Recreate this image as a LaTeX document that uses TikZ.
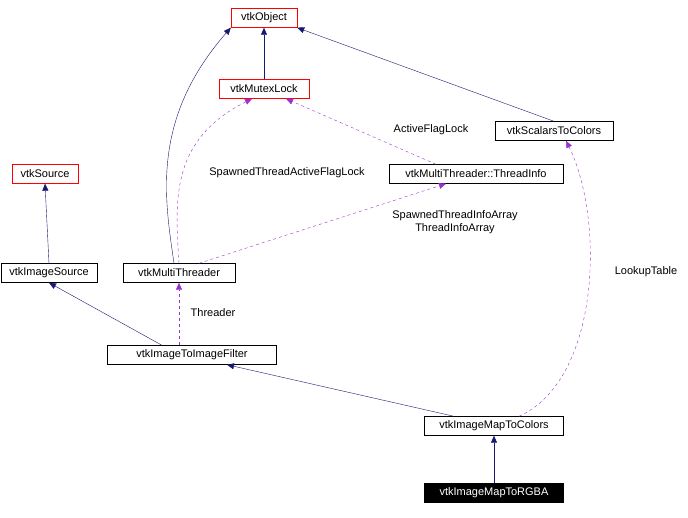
\documentclass[tikz,border=0pt]{standalone}
\usepackage{fontspec}
\setmainfont{Liberation Sans}
\usetikzlibrary{arrows.meta}
\definecolor{navy}{HTML}{191970}
\definecolor{purp}{HTML}{9A32CD}
\begin{document}
\begin{tikzpicture}[x=1pt,y=-1pt,font=\fontsize{11}{13}\selectfont,
  box/.style={draw=black,fill=white,minimum height=19pt,inner sep=1pt,anchor=center},
  redbox/.style={box,draw=red},
  inh/.style={navy,-{Triangle[length=7pt,width=6pt]}},
  use/.style={draw=purp,dashed,-{Triangle[length=7pt,width=6pt,fill=purp]}},
  lab/.style={align=center,inner sep=1pt}]
\useasboundingbox (0,0) rectangle (688,517);
\node[redbox,minimum width=66pt] (obj) at (264,18) {vtkObject};
\node[redbox,minimum width=90pt] (mutex) at (264,89) {vtkMutexLock};
\node[box,minimum width=118pt] (s2c) at (554,131) {vtkScalarsToColors};
\node[redbox,minimum width=66pt] (src) at (45,174) {vtkSource};
\node[box,minimum width=174pt] (ti) at (476,174) {vtkMultiThreader::ThreadInfo};
\node[box,minimum width=96pt] (isrc) at (49,273) {vtkImageSource};
\node[box,minimum width=112pt] (mt) at (179,273) {vtkMultiThreader};
\node[box,minimum width=169pt] (i2i) at (192,355) {vtkImageToImageFilter};
\node[box,minimum width=139pt] (m2c) at (494,426) {vtkImageMapToColors};
\node[box,fill=black,text=white,minimum width=139pt] (rgba) at (494,493) {vtkImageMapToRGBA};
% inheritance
\draw[inh] ([xshift=-5pt]mt.north) .. controls (165,200) and (150,120) .. (obj.south west);
\draw[inh] (mutex) -- (obj);
\draw[inh] (s2c.north) -- (obj.south east);
\draw[inh] (isrc.north) -- (src.south);
\draw[inh] ([xshift=-30pt]i2i.north) -- (isrc.south);
\draw[inh] ([xshift=-40pt]m2c.north) -- ([xshift=35pt]i2i.south);
\draw[inh] (rgba) -- (m2c);
% usage
\draw[use] (mt.north) .. controls (175,200) and (170,140) .. ([xshift=-12pt]mutex.south);
\node[lab] (l1) at (287,173) {SpawnedThreadActiveFlagLock};
\draw[use] ([xshift=-40pt]ti.north) -- ([xshift=22pt]mutex.south);
\node[lab] (l2) at (431,130) {ActiveFlagLock};
\draw[use] ([xshift=20pt]mt.north) -- ([xshift=-30pt]ti.south);
\node[lab] (l3) at (455,222) {SpawnedThreadInfoArray\\ThreadInfoArray};
\draw[use] ([xshift=-13pt]i2i.north) -- (mt.south);
\node[lab] (l4) at (213,313) {Threader};
\draw[use] ([xshift=25pt]m2c.north) .. controls (600,380) and (605,220) .. ([xshift=12pt]s2c.south);
\node[lab] (l5) at (646,272) {LookupTable};
\end{tikzpicture}
\end{document}
